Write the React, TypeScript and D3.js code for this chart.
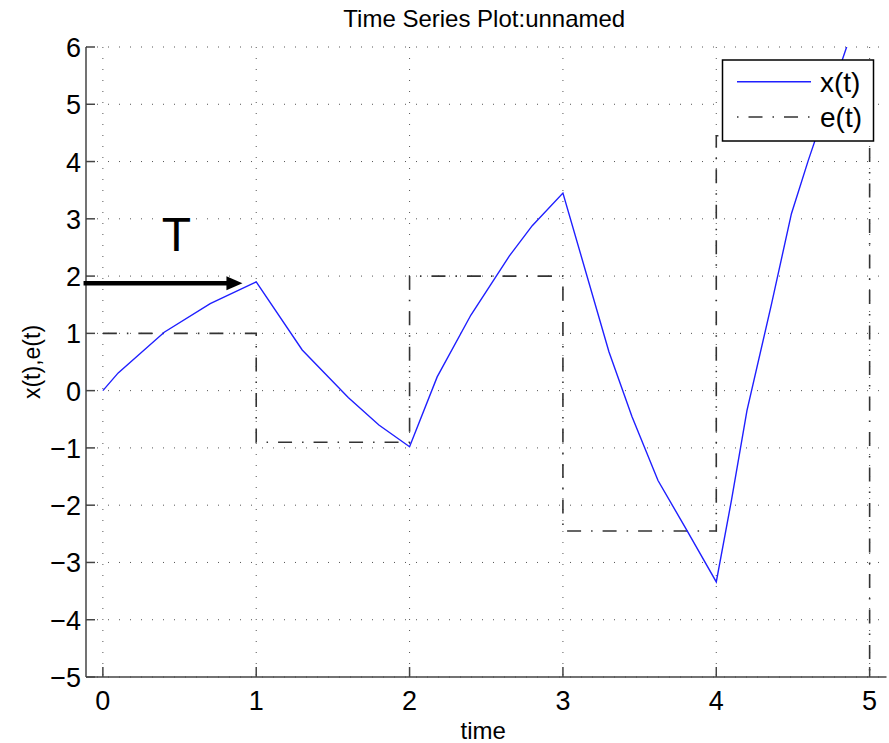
import { useEffect, useRef } from "react";
import * as d3 from "d3";

// x(t) samples
const tValues = [0, 0.1, 0.4, 0.7, 1.0, 1.3, 1.6, 1.8, 2.0, 2.18, 2.4, 2.65, 2.8, 3.0, 3.3, 3.45, 3.62, 3.8, 4.0, 4.1, 4.2, 4.36, 4.49, 4.6, 4.85, 5.0];
const xValues = [0, 0.31, 1.02, 1.52, 1.9, 0.71, -0.12, -0.6, -0.98, 0.24, 1.32, 2.35, 2.88, 3.45, 0.68, -0.45, -1.57, -2.4, -3.34, -1.9, -0.35, 1.51, 3.09, 4.02, 6.0, 7.1];

// e(t) staircase
const eTimes = [0, 1, 2, 3, 4, 5];
const eValues = [1, -0.9, 2, -2.45, 4.45, -5.6];

const xTicks = [0, 1, 2, 3, 4, 5];
const yTicks = [-5, -4, -3, -2, -1, 0, 1, 2, 3, 4, 5, 6];
const legendLabels = ["x(t)", "e(t)"];

const W = 889;
const H = 743;
const FONT = "'Liberation Sans', Arial, Helvetica, sans-serif";

export default function App() {
    const ref = useRef<SVGSVGElement>(null);

    useEffect(() => {
        const svg = d3.select(ref.current);
        svg.selectAll("*").remove();

        const left = 86, right = 886.5, top = 47, bottom = 677;
        const x = d3.scaleLinear().domain([-0.11, 5.11]).range([left, right]);
        const y = d3.scaleLinear().domain([-5, 6]).range([bottom, top]);

        svg.append("rect").attr("width", W).attr("height", H).attr("fill", "#fff");

        svg.append("defs").append("clipPath").attr("id", "plotClip")
            .append("rect")
            .attr("x", left).attr("y", top)
            .attr("width", right - left).attr("height", bottom - top);

        // grid (dotted)
        const grid = svg.append("g").attr("stroke", "#555").attr("stroke-width", 1)
            .attr("stroke-dasharray", "1,10");
        grid.selectAll(".gx").data(xTicks).join("line")
            .attr("x1", d => x(d)).attr("x2", d => x(d))
            .attr("y1", top).attr("y2", bottom);
        grid.selectAll(".gy").data(yTicks).join("line")
            .attr("x1", left).attr("x2", right)
            .attr("y1", d => y(d)).attr("y2", d => y(d));

        const plot = svg.append("g").attr("clip-path", "url(#plotClip)");

        // e(t) stairs
        const ePts = eTimes.map((t, i) => [t, eValues[i]] as [number, number]);
        plot.append("path")
            .datum(ePts)
            .attr("fill", "none")
            .attr("stroke", "#333")
            .attr("stroke-width", 1.6)
            .attr("stroke-dasharray", "14,10,1.5,10")
            .attr("d", d3.line<[number, number]>().x(d => x(d[0])).y(d => y(d[1])).curve(d3.curveStepAfter));

        // x(t)
        const xPts = tValues.map((t, i) => [t, xValues[i]] as [number, number]);
        plot.append("path")
            .datum(xPts)
            .attr("fill", "none")
            .attr("stroke", "#1f1fff")
            .attr("stroke-width", 1.4)
            .attr("d", d3.line<[number, number]>().x(d => x(d[0])).y(d => y(d[1])));

        // axes (left + bottom only, ticks inward)
        const ax = svg.append("g").attr("stroke", "#444").attr("stroke-width", 1.5);
        ax.append("line").attr("x1", left).attr("x2", left).attr("y1", top).attr("y2", bottom);
        ax.append("line").attr("x1", left).attr("x2", right).attr("y1", bottom).attr("y2", bottom);
        ax.selectAll(".ty").data(yTicks).join("line")
            .attr("x1", left).attr("x2", left + 9)
            .attr("y1", d => y(d)).attr("y2", d => y(d));
        ax.selectAll(".tx").data(xTicks).join("line")
            .attr("x1", d => x(d)).attr("x2", d => x(d))
            .attr("y1", bottom).attr("y2", bottom - 10);

        const fmt = (d: number) => (d < 0 ? "\u2212" + Math.abs(d) : String(d));

        svg.append("g").selectAll("text").data(yTicks).join("text")
            .attr("x", left - 5).attr("y", d => y(d) + 10)
            .attr("text-anchor", "end")
            .attr("font-family", FONT).attr("font-size", 27)
            .text(fmt);

        svg.append("g").selectAll("text").data(xTicks).join("text")
            .attr("x", d => x(d)).attr("y", bottom + 33)
            .attr("text-anchor", "middle")
            .attr("font-family", FONT).attr("font-size", 27)
            .text(fmt);

        // title + axis labels
        svg.append("text")
            .attr("x", (left + right) / 2 - 2).attr("y", 27)
            .attr("text-anchor", "middle")
            .attr("font-family", FONT).attr("font-size", 24)
            .text("Time Series Plot:unnamed");
        svg.append("text")
            .attr("x", (left + right) / 2 - 3).attr("y", 739)
            .attr("text-anchor", "middle")
            .attr("font-family", FONT).attr("font-size", 24)
            .text("time");
        svg.append("text")
            .attr("transform", `translate(40,${(top + bottom) / 2}) rotate(-90)`)
            .attr("text-anchor", "middle")
            .attr("font-family", FONT).attr("font-size", 23)
            .text("x(t),e(t)");

        // annotation arrow + T
        const ay = y(1.876);
        const ax0 = x(-0.126), ax1 = x(0.91);
        svg.append("line")
            .attr("x1", ax0).attr("x2", ax1 - 14)
            .attr("y1", ay).attr("y2", ay)
            .attr("stroke", "#000").attr("stroke-width", 4.5);
        svg.append("path")
            .attr("d", `M${ax1},${ay} L${ax1 - 16},${ay - 7} L${ax1 - 16},${ay + 7} Z`)
            .attr("fill", "#000");
        svg.append("text")
            .attr("x", x(0.48)).attr("y", y(2.43))
            .attr("text-anchor", "middle")
            .attr("font-family", FONT).attr("font-size", 48)
            .text("T");

        // legend
        const lg = svg.append("g");
        lg.append("rect")
            .attr("x", 722.5).attr("y", 60).attr("width", 151).attr("height", 81)
            .attr("fill", "#fff").attr("stroke", "#000").attr("stroke-width", 1.5);
        const rowY = [81.7, 117];
        lg.append("line")
            .attr("x1", 737).attr("x2", 811).attr("y1", rowY[0]).attr("y2", rowY[0])
            .attr("stroke", "#1f1fff").attr("stroke-width", 1.4);
        lg.append("line")
            .attr("x1", 737).attr("x2", 811).attr("y1", rowY[1]).attr("y2", rowY[1])
            .attr("stroke", "#333").attr("stroke-width", 1.6)
            .attr("stroke-dasharray", "1.5,10,14,10");
        lg.selectAll(".lt").data(legendLabels).join("text")
            .attr("x", 820).attr("y", (d, i) => rowY[i] + 10)
            .attr("font-family", FONT).attr("font-size", 28)
            .text(d => d);
    }, []);

    return (
        <svg width={W} height={H} ref={ref}
            style={{ display: "block", position: "absolute", left: 0, top: 0 }}></svg>
    );
}
